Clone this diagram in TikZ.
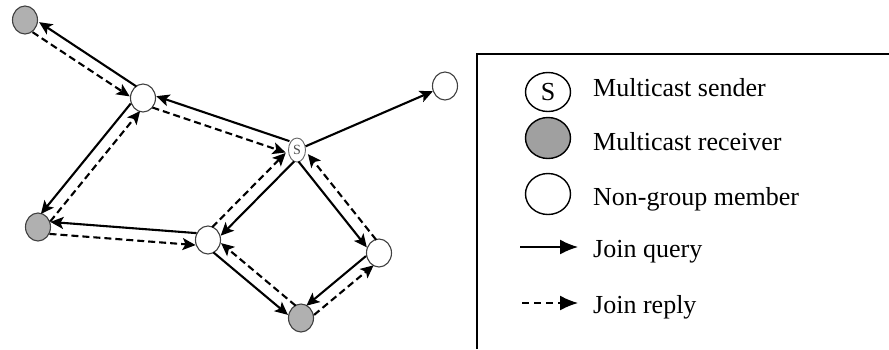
\documentclass[tikz,border=0pt]{standalone}
\usepackage{fontspec}
\setmainfont{Liberation Serif}
\usetikzlibrary{arrows.meta,calc,shapes.geometric}
\definecolor{rcv}{RGB}{176,176,176}
\definecolor{lrcv}{RGB}{160,160,160}
\tikzset{
  nd/.style={ellipse, draw=black!75, line width=1.1pt, minimum width=25pt, minimum height=28pt, inner sep=0pt},
  rc/.style={nd, fill=rcv},
  wt/.style={nd, fill=white},
  snd/.style={ellipse, draw=black!60, line width=0.9pt, minimum width=17pt, minimum height=24pt, inner sep=0pt, font=\fontsize{14}{14}\selectfont, text=black!70},
  q/.style={line width=2.1pt, -{Stealth[length=13pt,width=12pt,inset=3pt]}},
  rp/.style={q, dash pattern=on 7pt off 4pt},
  lgn/.style={ellipse, draw=black, line width=1.4pt, minimum width=45pt, minimum height=41pt, inner sep=0pt},
  ltx/.style={anchor=base west, inner sep=0pt, font=\fontsize{26}{30}\selectfont},
  lq/.style={line width=1.6pt, -{Latex[length=18pt,width=15pt]}},
  lr/.style={lq, dash pattern=on 7pt off 5pt},
}
\newcommand\pairR[4]{%
  \draw[q, shorten <=#3, shorten >=#4] ($(#1)!6pt!-90:(#2)$) -- ($(#2)!6pt!90:(#1)$);
  \draw[rp, shorten <=#4, shorten >=#3] ($(#2)!6pt!-90:(#1)$) -- ($(#1)!6pt!90:(#2)$);
}
\newcommand\pairL[4]{%
  \draw[q, shorten <=#3, shorten >=#4] ($(#1)!6pt!90:(#2)$) -- ($(#2)!6pt!-90:(#1)$);
  \draw[rp, shorten <=#4, shorten >=#3] ($(#2)!6pt!90:(#1)$) -- ($(#1)!6pt!-90:(#2)$);
}
\begin{document}
\begin{tikzpicture}[x=1pt,y=-1pt]
\useasboundingbox[fill=white] (0,0) rectangle (889,349);
% graph nodes
\node[rc] (R1) at (25,20) {};
\node[wt] (N1) at (143,98) {};
\node[snd] (S) at (297,150) {S};
\node[wt] (N2) at (445,86) {};
\node[rc] (R2) at (38,227) {};
\node[wt] (N3) at (208,240) {};
\node[wt] (N4) at (379,253) {};
\node[rc] (R3) at (301,318) {};
% connectors
\pairR{N1}{R1}{12pt}{13pt}
\pairR{S}{N1}{10pt}{12pt}
\draw[q] (S) -- (N2);
\pairR{N1}{R2}{12pt}{12pt}
\pairR{N3}{R2}{12pt}{12pt}
\pairL{S}{N3}{10pt}{12pt}
\pairR{S}{N4}{10pt}{12pt}
\pairR{N3}{R3}{12pt}{12pt}
\pairR{N4}{R3}{12pt}{12pt}
% legend frame
\draw[line width=1.8pt] (477,349) -- (477,54) -- (889,54);
% legend
\node[lgn, fill=white, minimum height=39pt, font=\fontsize{26}{30}\selectfont] (lS) at (548,92) {S};
\node[lgn, fill=lrcv] (lR) at (548,138) {};
\node[lgn, fill=white] (lN) at (548,194) {};
\coordinate (qa) at (520,247);
\coordinate (qb) at (578,247);
\draw[lq] (qa) -- (qb);
\coordinate (ra) at (522,303);
\coordinate (rb) at (578,303);
\draw[lr] (ra) -- (rb);
\node[ltx] (tS) at (593,96) {Multicast sender};
\node[ltx] (tR) at (593,150) {Multicast receiver};
\node[ltx] (tN) at (593,205) {Non-group member};
\node[ltx] (tQ) at (593,257) {Join query};
\node[ltx] (tP) at (593,313) {Join reply};
\end{tikzpicture}
\end{document}
